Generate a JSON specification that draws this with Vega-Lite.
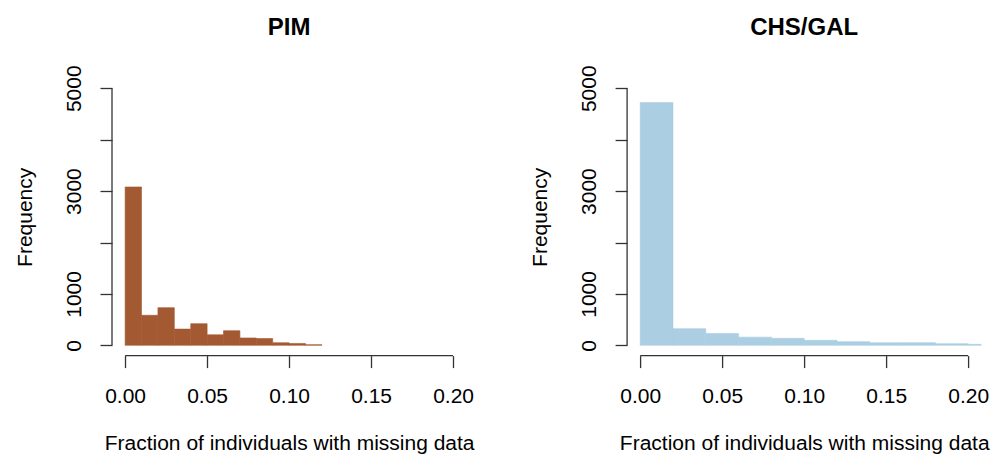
{
  "$schema": "https://vega.github.io/schema/vega-lite/v6.json",
  "background": "white",
  "padding": {"left": 13, "top": 15, "right": 5, "bottom": 0},
  "config": {
    "view": {"stroke": null},
    "font": "Liberation Sans",
    "axis": {"grid": false, "domain": false, "tickSize": 12, "tickColor": "#333333", "tickWidth": 1.3, "labelFont": "Liberation Sans", "labelFontSize": 21, "labelColor": "#000000", "titleFont": "Liberation Sans", "titleFontSize": 21, "titleFontWeight": "normal", "titleColor": "#000000", "labelFlush": false, "labelOverlap": false}
  },
  "datasets": {
    "pim": [
      {"bin_start": 0.00, "bin_end": 0.01, "count": 3080},
      {"bin_start": 0.01, "bin_end": 0.02, "count": 584},
      {"bin_start": 0.02, "bin_end": 0.03, "count": 733},
      {"bin_start": 0.03, "bin_end": 0.04, "count": 316},
      {"bin_start": 0.04, "bin_end": 0.05, "count": 421},
      {"bin_start": 0.05, "bin_end": 0.06, "count": 204},
      {"bin_start": 0.06, "bin_end": 0.07, "count": 285},
      {"bin_start": 0.07, "bin_end": 0.08, "count": 143},
      {"bin_start": 0.08, "bin_end": 0.09, "count": 132},
      {"bin_start": 0.09, "bin_end": 0.10, "count": 50},
      {"bin_start": 0.10, "bin_end": 0.11, "count": 36},
      {"bin_start": 0.11, "bin_end": 0.12, "count": 13}
    ],
    "chs": [
      {"bin_start": 0.00, "bin_end": 0.02, "count": 4721},
      {"bin_start": 0.02, "bin_end": 0.04, "count": 324},
      {"bin_start": 0.04, "bin_end": 0.06, "count": 230},
      {"bin_start": 0.06, "bin_end": 0.08, "count": 159},
      {"bin_start": 0.08, "bin_end": 0.10, "count": 136},
      {"bin_start": 0.10, "bin_end": 0.12, "count": 97},
      {"bin_start": 0.12, "bin_end": 0.14, "count": 71},
      {"bin_start": 0.14, "bin_end": 0.16, "count": 50},
      {"bin_start": 0.16, "bin_end": 0.18, "count": 52},
      {"bin_start": 0.18, "bin_end": 0.20, "count": 32},
      {"bin_start": 0.20, "bin_end": 0.22, "count": 19}
    ]
  },
  "spacing": 160.1,
  "bounds": "flush",
  "hconcat": [
    {
      "width": 354.2,
      "height": 277.6,
      "title": {"text": "PIM", "font": "Liberation Sans", "fontSize": 24, "fontWeight": "bold", "color": "#000000", "frame": "group", "anchor": "middle", "baseline": "alphabetic", "offset": 6.4},
      "layer": [
        {
          "data": {"name": "pim"},
          "mark": {"type": "rect", "color": "#A35A33", "stroke": "#A35A33", "strokeWidth": 0.6, "clip": true},
          "encoding": {
            "x": {"field": "bin_start", "type": "quantitative", "scale": {"domain": [-0.008, 0.208], "nice": false, "zero": false},
              "axis": {"values": [0, 0.05, 0.1, 0.15, 0.2], "format": ".2f", "labelBaseline": "alphabetic", "labelPadding": 35, "title": "Fraction of individuals with missing data", "titleBaseline": "alphabetic", "titleAlign": "center", "titleX": 177.1, "titleY": 93.7}},
            "x2": {"field": "bin_end"},
            "y": {"field": "count", "type": "quantitative", "scale": {"domain": [-200, 5200], "nice": false, "zero": false},
              "axis": {"values": [0, 1000, 2000, 3000, 4000, 5000], "format": "d", "labelExpr": "datum.value == 2000 || datum.value == 4000 ? '' : datum.label", "labelAngle": -90, "labelAlign": "center", "labelBaseline": "alphabetic", "labelPadding": 20, "title": "Frequency", "titleAngle": -90, "titleAlign": "center", "titleBaseline": "alphabetic", "titleX": -81, "titleY": 138.8}},
            "y2": {"datum": 0}
          }
        },
        {
          "data": {"values": [{}]},
          "mark": {"type": "rule", "color": "#333333", "strokeWidth": 1.3},
          "encoding": {"x": {"datum": 0, "type": "quantitative"}, "x2": {"datum": 0.2}, "y": {"datum": -200, "type": "quantitative"}}
        },
        {
          "data": {"values": [{}]},
          "mark": {"type": "rule", "color": "#333333", "strokeWidth": 1.3},
          "encoding": {"x": {"datum": -0.008, "type": "quantitative"}, "y": {"datum": 0, "type": "quantitative"}, "y2": {"datum": 5000}}
        }
      ]
    },
    {
      "width": 354.2,
      "height": 277.6,
      "title": {"text": "CHS/GAL", "font": "Liberation Sans", "fontSize": 24, "fontWeight": "bold", "color": "#000000", "frame": "group", "anchor": "middle", "baseline": "alphabetic", "offset": 6.4},
      "layer": [
        {
          "data": {"name": "chs"},
          "mark": {"type": "rect", "color": "#ABCEE2", "stroke": "#ABCEE2", "strokeWidth": 0.6, "clip": true},
          "encoding": {
            "x": {"field": "bin_start", "type": "quantitative", "scale": {"domain": [-0.008, 0.208], "nice": false, "zero": false},
              "axis": {"values": [0, 0.05, 0.1, 0.15, 0.2], "format": ".2f", "labelBaseline": "alphabetic", "labelPadding": 35, "title": "Fraction of individuals with missing data", "titleBaseline": "alphabetic", "titleAlign": "center", "titleX": 177.1, "titleY": 93.7}},
            "x2": {"field": "bin_end"},
            "y": {"field": "count", "type": "quantitative", "scale": {"domain": [-200, 5200], "nice": false, "zero": false},
              "axis": {"values": [0, 1000, 2000, 3000, 4000, 5000], "format": "d", "labelExpr": "datum.value == 2000 || datum.value == 4000 ? '' : datum.label", "labelAngle": -90, "labelAlign": "center", "labelBaseline": "alphabetic", "labelPadding": 20, "title": "Frequency", "titleAngle": -90, "titleAlign": "center", "titleBaseline": "alphabetic", "titleX": -81, "titleY": 138.8}},
            "y2": {"datum": 0}
          }
        },
        {
          "data": {"values": [{}]},
          "mark": {"type": "rule", "color": "#333333", "strokeWidth": 1.3},
          "encoding": {"x": {"datum": 0, "type": "quantitative"}, "x2": {"datum": 0.2}, "y": {"datum": -200, "type": "quantitative"}}
        },
        {
          "data": {"values": [{}]},
          "mark": {"type": "rule", "color": "#333333", "strokeWidth": 1.3},
          "encoding": {"x": {"datum": -0.008, "type": "quantitative"}, "y": {"datum": 0, "type": "quantitative"}, "y2": {"datum": 5000}}
        }
      ]
    }
  ]
}
